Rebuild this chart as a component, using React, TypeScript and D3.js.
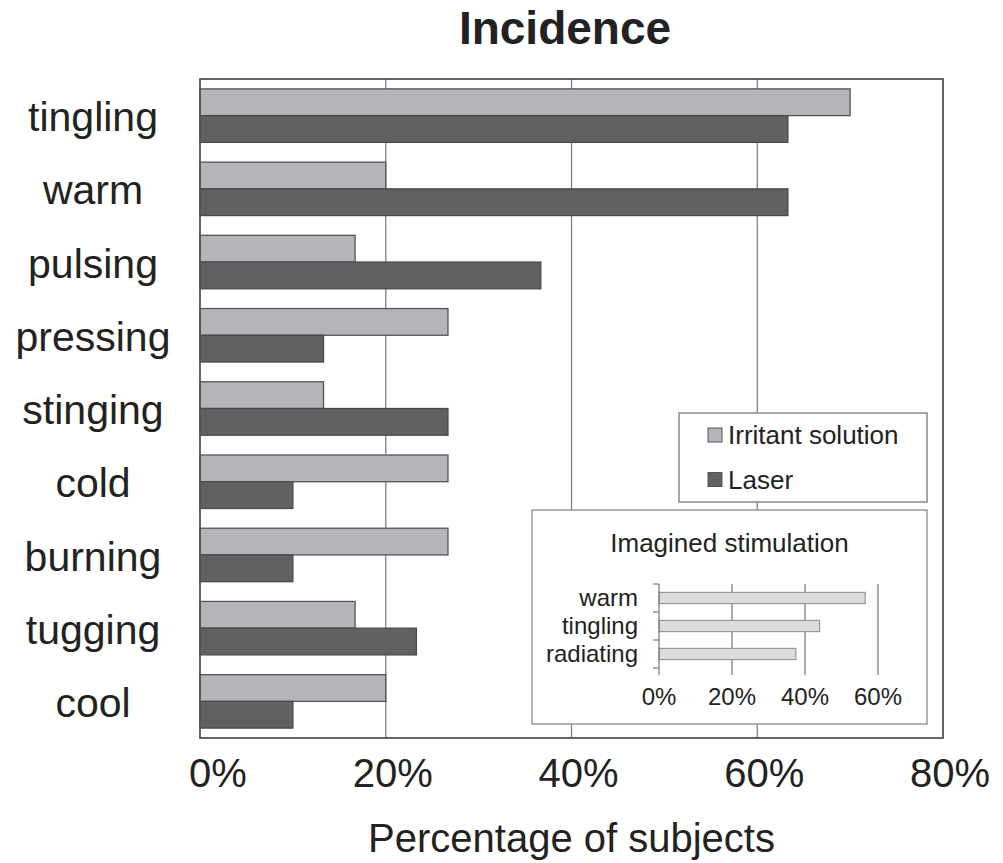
import React from "react";
import * as d3 from "d3";

const categories = ["tingling", "warm", "pulsing", "pressing", "stinging", "cold", "burning", "tugging", "cool"];
const irritantValues = [70, 20, 16.7, 26.7, 13.3, 26.7, 26.7, 16.7, 20];
const laserValues = [63.3, 63.3, 36.7, 13.3, 26.7, 10, 10, 23.3, 10];
const seriesNames = ["Irritant solution", "Laser"];
const mainTicks = [0, 20, 40, 60, 80];

const insetCategories = ["warm", "tingling", "radiating"];
const insetValues = [56.5, 44, 37.5];
const insetTicks = [0, 20, 40, 60];

const FONT = "'Liberation Sans', Arial, Helvetica, sans-serif";
const IRR_FILL = "#b4b5b8";
const LAS_FILL = "#616163";

export default function App() {
  const W = 1003, H = 863;
  const x = d3.scaleLinear().domain([0, 80]).range([200, 943]);
  const y = d3.scaleBand<string>().domain(categories).range([79, 738]).paddingInner(0.27).paddingOuter(0.135);
  const sub = d3.scaleBand<string>().domain(seriesNames).range([0, y.bandwidth()]);

  const xi = d3.scaleLinear().domain([0, 60]).range([659, 878]);
  const yi = d3.scaleBand<string>().domain(insetCategories).range([584, 668]).paddingInner(0.6).paddingOuter(0.3);
  const yiBounds = insetCategories.map((_, i) => 584 + i * yi.step()).concat([668]);

  const plotTop = 79, plotBottom = 738;

  return (
    <svg width={W} height={H} style={{ position: "absolute", left: 0, top: 0, background: "#fff" }} fontFamily={FONT}>
      <rect x={0} y={0} width={W} height={H} fill="#fff" />
      {/* title */}
      <text x={565} y={44} textAnchor="middle" fontSize={46} fontWeight="bold" fill="#222">Incidence</text>

      {/* gridlines */}
      {mainTicks.slice(1, -1).map((t) => (
        <line key={"g" + t} x1={x(t)} x2={x(t)} y1={plotTop} y2={plotBottom} stroke="#777" strokeWidth={1.2} />
      ))}

      {/* bars */}
      {categories.map((c, i) => (
        <g key={c}>
          <rect x={x(0)} y={(y(c) as number) + (sub(seriesNames[0]) as number)} width={x(irritantValues[i]) - x(0)} height={sub.bandwidth()} fill={IRR_FILL} stroke="#555" strokeWidth={1.3} />
          <rect x={x(0)} y={(y(c) as number) + (sub(seriesNames[1]) as number)} width={x(laserValues[i]) - x(0)} height={sub.bandwidth()} fill={LAS_FILL} stroke="#4a4a4a" strokeWidth={1.3} />
        </g>
      ))}

      {/* frame */}
      <rect x={x(0)} y={plotTop} width={x(80) - x(0)} height={plotBottom - plotTop} fill="none" stroke="#555" strokeWidth={1.8} />

      {/* category labels */}
      {categories.map((c) => (
        <text key={"l" + c} x={93} y={(y(c) as number) + y.bandwidth() / 2} dy="0.38em" textAnchor="middle" fontSize={41} fill="#222">{c}</text>
      ))}

      {/* x tick labels */}
      {mainTicks.map((t) => (
        <text key={"t" + t} x={x(t) + (t === 0 ? 18 : 7)} y={787} textAnchor="middle" fontSize={40} fill="#222">{t + "%"}</text>
      ))}

      {/* x axis title */}
      <text x={(x(0) + x(80)) / 2} y={852} textAnchor="middle" fontSize={40} fill="#222">Percentage of subjects</text>

      {/* legend */}
      <rect x={679} y={413} width={248} height={89} fill="#fff" stroke="#888" strokeWidth={1.5} />
      {seriesNames.map((s, i) => (
        <g key={"lg" + s}>
          <rect x={708} y={428 + i * 44.5} width={14} height={14} fill={i === 0 ? IRR_FILL : LAS_FILL} stroke="#555" strokeWidth={1} />
          <text x={728} y={435 + i * 44.5} dy="0.35em" fontSize={26} fill="#222">{s}</text>
        </g>
      ))}

      {/* inset */}
      <rect x={532} y={510} width={395} height={214} fill="#fff" stroke="#999" strokeWidth={1.5} />
      <text x={729.5} y={552} textAnchor="middle" fontSize={26} fill="#222">Imagined stimulation</text>
      {insetTicks.slice(1).map((t) => (
        <line key={"ig" + t} x1={xi(t)} x2={xi(t)} y1={584} y2={675} stroke="#777" strokeWidth={1.2} />
      ))}
      {insetCategories.map((c, i) => (
        <rect key={"ib" + c} x={xi(0)} y={yi(c) as number} width={xi(insetValues[i]) - xi(0)} height={yi.bandwidth()} fill="#dadbdc" stroke="#999" strokeWidth={1.2} />
      ))}
      <line x1={xi(0)} x2={xi(0)} y1={584} y2={675} stroke="#777" strokeWidth={1.2} />
      {yiBounds.map((b, i) => (
        <line key={"it" + i} x1={xi(0) - 6} x2={xi(0)} y1={b} y2={b} stroke="#777" strokeWidth={1.2} />
      ))}
      {insetCategories.map((c) => (
        <text key={"il" + c} x={638} y={(yi(c) as number) + yi.bandwidth() / 2} dy="0.35em" textAnchor="end" fontSize={24} fill="#222">{c}</text>
      ))}
      {insetTicks.map((t) => (
        <text key={"itl" + t} x={xi(t)} y={705} textAnchor="middle" fontSize={24} fill="#222">{t + "%"}</text>
      ))}
    </svg>
  );
}
